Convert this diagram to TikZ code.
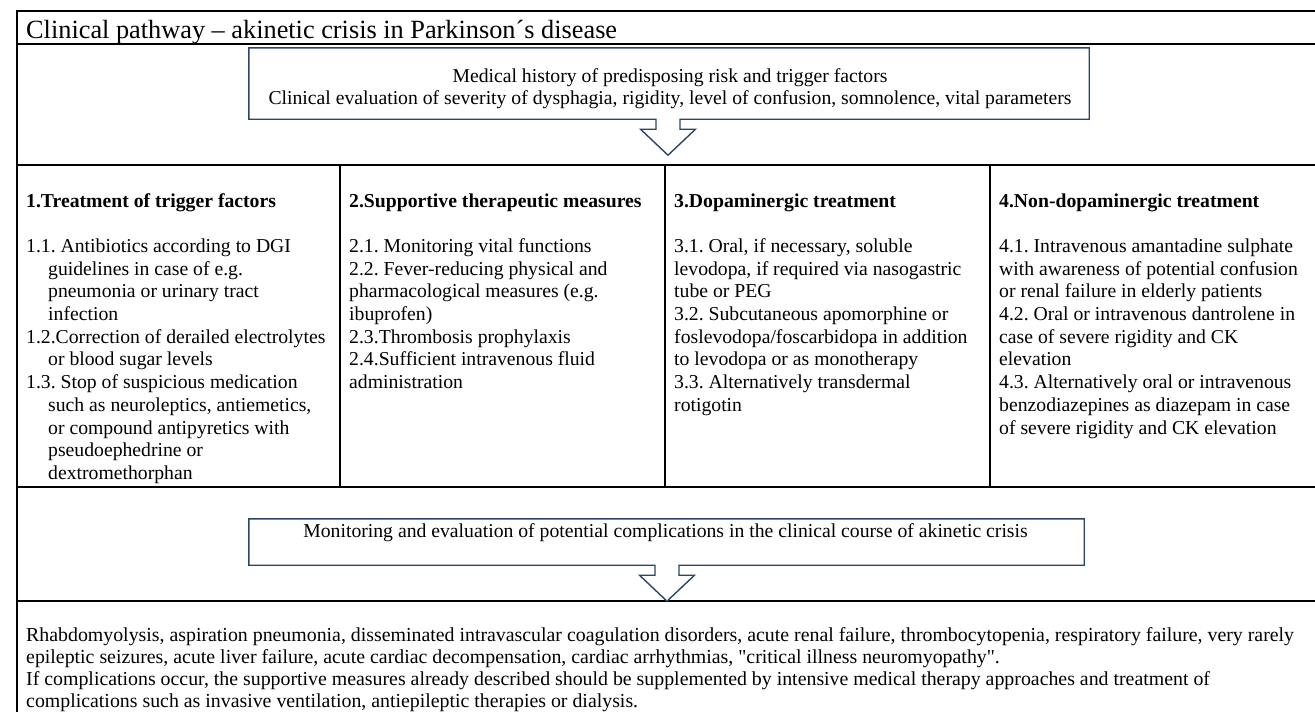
\documentclass[tikz,border=0pt]{standalone}
\usepackage{fontspec}
\setmainfont{Liberation Serif}
\frenchspacing
\newcommand\colfont{\fontsize{19.7}{22.7}\selectfont}
\newcommand\botfont{\fontsize{19.85}{22}\selectfont}
\newcommand\ttlfont{\fontsize{26.3}{30}\selectfont}
\newcommand\hang{\hspace*{22pt}}
\newcommand\sq{\XeTeXglyph\XeTeXcharglyph"22\relax}
\definecolor{navy}{HTML}{2B4468}
\tikzset{
  grid/.style={draw=black, line width=1.1pt},
  callout/.style={draw=navy, line width=1.4pt, fill=white, line join=miter},
  boxgeom/.style={draw=none, inner sep=0pt, rectangle},
  coltext/.style={anchor=north west, inner sep=0pt, align=left, font=\colfont},
  plain/.style={inner sep=0pt, font=\colfont}
}
\begin{document}
\begin{tikzpicture}[x=1pt,y=-1pt]
\useasboundingbox (0,0) rectangle (1315,712);
% table grid
\draw[grid] (1316,11) -- (17,11) -- (17,720);
\draw[grid] (17,44) -- (1316,44);
\draw[grid] (17,165) -- (1316,165);
\draw[grid] (17,487) -- (1316,487);
\draw[grid] (17,601) -- (1316,601);
\draw[grid] (340,165) -- (340,487);
\draw[grid] (665,165) -- (665,487);
\draw[grid] (990,165) -- (990,487);
\draw[grid] (1316,11) -- (1316,720);
% title
\node[inner sep=0pt, anchor=base west, font=\ttlfont] (title) at (26,38) {Clinical pathway – akinetic crisis in Parkinson´s disease};
% first callout box
\node[boxgeom, minimum width=840pt, minimum height=71pt] (hist) at (669,83.5) {};
\draw[callout] (hist.north west) -- (hist.north east) -- (hist.south east)
  -- ([xshift=12pt]hist.south -| 668,0) -- ++(0,10) -- ++(15.5,0) -- ++(-27.5,26)
  -- ++(-27.5,-26) -- ++(15.5,0) -- ++(0,-10) -- (hist.south west) -- cycle;
\node[plain, align=center, anchor=north] (histtext) at (670,66) {\strut Medical history of predisposing risk and trigger factors\\Clinical evaluation of severity of dysphagia, rigidity, level of confusion, somnolence, vital parameters};
% columns
\node[coltext] (c1) at (26,191) {\strut\textbf{1.Treatment of trigger factors}\\[22.7pt]
1.1. Antibiotics according to DGI\\
\hang guidelines in case of e.g.\\
\hang pneumonia or urinary tract\\
\hang infection\\
1.2.Correction of derailed electrolytes\\
\hang or blood sugar levels\\
1.3. Stop of suspicious medication\\
\hang such as neuroleptics, antiemetics,\\
\hang or compound antipyretics with\\
\hang pseudoephedrine or\\
\hang dextromethorphan};
\node[coltext] (c2) at (349,191) {\strut\textbf{2.Supportive therapeutic measures}\\[22.7pt]
2.1. Monitoring vital functions\\
2.2. Fever-reducing physical and\\
pharmacological measures (e.g.\\
ibuprofen)\\
2.3.Thrombosis prophylaxis\\
2.4.Sufficient intravenous fluid\\
administration};
\node[coltext] (c3) at (674,191) {\strut\textbf{3.Dopaminergic treatment}\\[22.7pt]
3.1. Oral, if necessary, soluble\\
levodopa, if required via nasogastric\\
tube or PEG\\
3.2. Subcutaneous apomorphine or\\
foslevodopa/foscarbidopa in addition\\
to levodopa or as monotherapy\\
3.3. Alternatively transdermal\\
rotigotin};
\node[coltext] (c4) at (999,191) {\strut\textbf{4.Non-dopaminergic treatment}\\[22.7pt]
4.1. Intravenous amantadine sulphate\\
with awareness of potential confusion\\
or renal failure in elderly patients\\
4.2. Oral or intravenous dantrolene in\\
case of severe rigidity and CK\\
elevation\\
4.3. Alternatively oral or intravenous\\
benzodiazepines as diazepam in case\\
of severe rigidity and CK elevation};
% second callout box
\node[boxgeom, minimum width=835pt, minimum height=46pt] (monitor) at (666.5,542) {};
\draw[callout] (monitor.north west) -- (monitor.north east) -- (monitor.south east)
  -- ([xshift=12pt]monitor.south -| 667,0) -- ++(0,10) -- ++(15.5,0) -- ++(-27.5,26)
  -- ++(-27.5,-26) -- ++(15.5,0) -- ++(0,-10) -- (monitor.south west) -- cycle;
\node[plain, anchor=base] (montext) at (665.5,537) {Monitoring and evaluation of potential complications in the clinical course of akinetic crisis};
% bottom text
\node[inner sep=0pt, anchor=north west, align=left, font=\botfont] (compl) at (26,626) {\strut Rhabdomyolysis, aspiration pneumonia, disseminated intravascular coagulation disorders, acute renal failure, thrombocytopenia, respiratory failure, very rarely\\
epileptic seizures, acute liver failure, acute cardiac decompensation, cardiac arrhythmias, \sq critical illness neuromyopathy\sq.\\
If complications occur, the supportive measures already described should be supplemented by intensive medical therapy approaches and treatment of\\
complications such as invasive ventilation, antiepileptic therapies or dialysis.};
\end{tikzpicture}
\end{document}
